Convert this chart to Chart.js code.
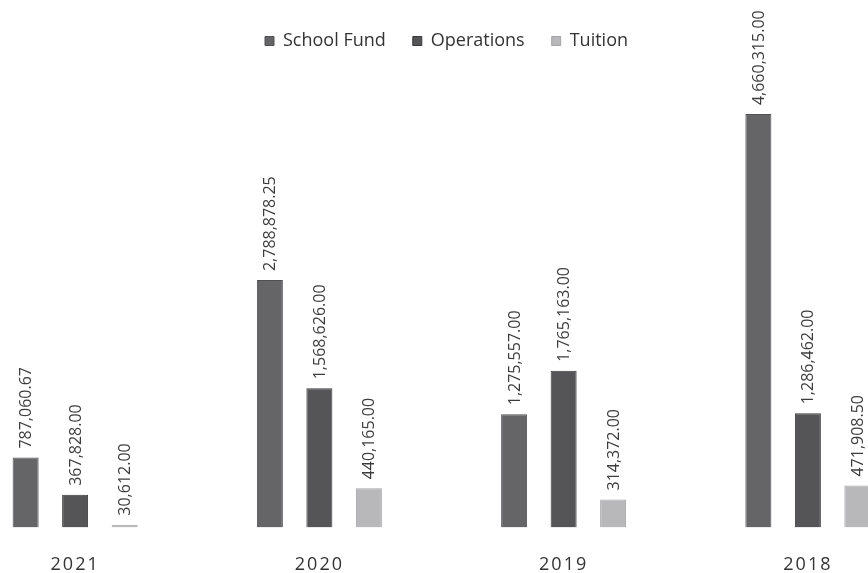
<!DOCTYPE html>
<html>
<head>
<meta charset="utf-8">
<script src="https://cdn.jsdelivr.net/npm/chart.js@4/dist/chart.umd.min.js"></script>
<style>
  html, body { margin: 0; padding: 0; background: #ffffff; overflow: hidden; }
  #wrap { position: relative; width: 868px; height: 573px; overflow: hidden; }
  #fundChart { position: absolute; left: -47px; top: 0; }
</style>
</head>
<body>
<div id="wrap">
  <canvas id="fundChart" width="977" height="573"></canvas>
</div>
<script>
// Yearly amounts per fund
const years = ['2021', '2020', '2019', '2018'];
const schoolFund = [787060.67, 2788878.25, 1275557.00, 4660315.00];
const operations = [367828.00, 1568626.00, 1765163.00, 1286462.00];
const tuition = [30612.00, 440165.00, 314372.00, 471908.50];

const fmt = v => v.toLocaleString('en-US', { minimumFractionDigits: 2, maximumFractionDigits: 2 });

// Rotated value labels above every bar, then letter spacing for the year ticks
const valueLabels = {
    id: 'valueLabels',
    afterLayout(chart) {
        // nudge the legend a little to the right
        chart.legend.left += 5;
        chart.legend.right += 5;
    },
    beforeDraw(chart) {
        chart.ctx.letterSpacing = '0px';
    },
    afterDatasetsDraw(chart) {
        const ctx = chart.ctx;
        ctx.save();
        ctx.font = '16px "Open Sans"';
        ctx.fillStyle = '#3c3c3c';
        ctx.textAlign = 'left';
        ctx.textBaseline = 'middle';
        chart.data.datasets.forEach((ds, i) => {
            chart.getDatasetMeta(i).data.forEach((bar, j) => {
                ctx.save();
                ctx.translate(bar.x + 1, bar.y - 9);
                ctx.rotate(-Math.PI / 2);
                ctx.fillText(fmt(ds.data[j]), 0, 0);
                ctx.restore();
            });
        });
        ctx.restore();
        ctx.letterSpacing = '2px';
    },
    afterDraw(chart) {
        chart.ctx.letterSpacing = '0px';
    }
};

const ctx = document.getElementById('fundChart').getContext('2d');
new Chart(ctx, {
    type: 'bar',
    data: {
        labels: years,
        datasets: [{
            label: 'School Fund',
            data: schoolFund,
            backgroundColor: '#656568',
            borderColor: '#505053',
            borderWidth: 1
        }, {
            label: 'Operations',
            data: operations,
            backgroundColor: '#555558',
            borderColor: '#38383a',
            borderWidth: 1
        }, {
            label: 'Tuition',
            data: tuition,
            backgroundColor: '#b8b8bb',
            borderColor: '#a4a4a7',
            borderWidth: 1
        }]
    },
    options: {
        responsive: false,
        animation: false,
        layout: { padding: { top: 5, bottom: -30, left: 0, right: 0 } },
        datasets: {
            bar: { categoryPercentage: 0.608, barPercentage: 0.525 }
        },
        plugins: {
            legend: {
                position: 'top',
                labels: {
                    boxWidth: 9,
                    boxHeight: 9,
                    padding: 27,
                    color: '#333333',
                    font: { family: 'Open Sans', size: 18 }
                }
            },
            tooltip: { enabled: false }
        },
        scales: {
            x: {
                grid: { display: false, drawTicks: false },
                border: { display: false },
                ticks: {
                    z: 1,
                    padding: 27,
                    color: '#333333',
                    font: { family: 'Open Sans', size: 18 }
                }
            },
            y: {
                display: false,
                min: 0,
                max: 5270000
            }
        }
    },
    plugins: [valueLabels]
});
</script>
</body>
</html>
